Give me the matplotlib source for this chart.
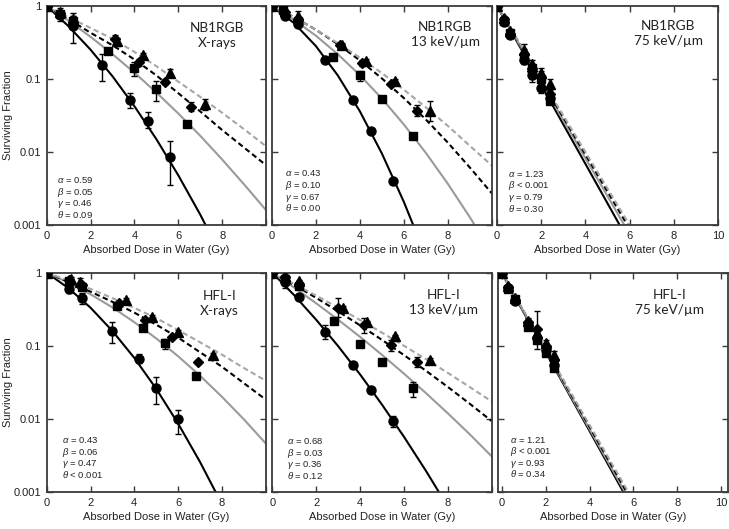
import matplotlib
matplotlib.use('Agg')
import matplotlib.pyplot as plt

plt.rcParams['font.family'] = ['Liberation Sans', 'DejaVu Sans']
plt.rcParams['mathtext.fontset'] = 'custom'
plt.rcParams['mathtext.it'] = 'Liberation Sans:italic'
plt.rcParams['mathtext.rm'] = 'Liberation Sans'

# ---------------- data (dose in Gy, surviving fraction) ----------------
# fit curves are read on a common dose grid
fit_dose = [0, 1, 2, 3, 4, 5, 6, 7, 8, 9, 10]
steep_dose = [0, 2, 4, 6]

# NB1RGB, X-rays
nbx_circ_dose = [0, 0.6, 1.2, 2.5, 3.8, 4.6, 5.6]
nbx_circ_sf = [1.0, 0.75, 0.53, 0.155, 0.052, 0.027, 0.0085]
nbx_circ_lo = [1.0, 0.63, 0.31, 0.095, 0.040, 0.021, 0.0035]
nbx_circ_hi = [1.0, 0.95, 0.80, 0.22, 0.065, 0.035, 0.014]
nbx_sq_dose = [0, 0.6, 1.2, 2.8, 4.0, 5.0, 6.4]
nbx_sq_sf = [1.0, 0.78, 0.62, 0.245, 0.14, 0.072, 0.024]
nbx_sq_lo = [1.0, 0.72, 0.52, 0.245, 0.11, 0.05, 0.022]
nbx_sq_hi = [1.0, 0.85, 0.72, 0.245, 0.17, 0.095, 0.026]
nbx_dia_dose = [0, 0.6, 1.2, 3.1, 4.2, 5.4, 6.6]
nbx_dia_sf = [1.0, 0.80, 0.60, 0.35, 0.17, 0.092, 0.042]
nbx_dia_lo = [1.0, 0.75, 0.55, 0.30, 0.15, 0.085, 0.036]
nbx_dia_hi = [1.0, 0.85, 0.66, 0.40, 0.19, 0.10, 0.049]
nbx_tri_dose = [0, 0.6, 1.2, 3.2, 4.4, 5.6, 7.2]
nbx_tri_sf = [1.0, 0.82, 0.66, 0.33, 0.215, 0.12, 0.045]
nbx_tri_lo = [1.0, 0.78, 0.60, 0.28, 0.20, 0.105, 0.038]
nbx_tri_hi = [1.0, 0.86, 0.72, 0.36, 0.23, 0.135, 0.054]
nbx_fit_black = [1, 0.527, 0.252, 0.109, 0.0424, 0.0150, 0.0048, 0.00139, 0.00036, 8.6e-5, 1.8e-5]
nbx_fit_gray = [1, 0.627, 0.378, 0.219, 0.122, 0.0654, 0.0337, 0.0167, 0.0079, 0.0036, 0.0016]
nbx_fit_bdash = [1, 0.66, 0.43, 0.29, 0.185, 0.112, 0.064, 0.036, 0.020, 0.0115, 0.0066]
nbx_fit_gdash = [1, 0.70, 0.50, 0.355, 0.235, 0.15, 0.092, 0.057, 0.0345, 0.0205, 0.012]

# NB1RGB, 13 keV/um
nb13_circ_dose = [0, 0.6, 1.2, 2.4, 3.7, 4.5, 5.5]
nb13_circ_sf = [1.0, 0.72, 0.57, 0.18, 0.052, 0.0196, 0.004]
nb13_circ_lo = [1.0, 0.68, 0.53, 0.17, 0.049, 0.0186, 0.0038]
nb13_circ_hi = [1.0, 0.76, 0.61, 0.19, 0.055, 0.0206, 0.0042]
nb13_sq_dose = [0, 0.5, 1.2, 2.8, 4.0, 5.0, 6.4]
nb13_sq_sf = [1.0, 0.87, 0.62, 0.20, 0.113, 0.053, 0.0166]
nb13_sq_lo = [1.0, 0.84, 0.58, 0.20, 0.095, 0.053, 0.0166]
nb13_sq_hi = [1.0, 0.90, 0.66, 0.20, 0.13, 0.053, 0.0166]
nb13_dia_dose = [0, 0.6, 1.2, 3.1, 4.1, 5.4, 6.6]
nb13_dia_sf = [1.0, 0.82, 0.66, 0.29, 0.165, 0.085, 0.037]
nb13_dia_lo = [1.0, 0.78, 0.62, 0.27, 0.15, 0.08, 0.031]
nb13_dia_hi = [1.0, 0.86, 0.70, 0.31, 0.18, 0.09, 0.044]
nb13_tri_dose = [0, 0.6, 1.2, 3.2, 4.3, 5.6, 7.2]
nb13_tri_sf = [1.0, 0.85, 0.72, 0.29, 0.178, 0.093, 0.036]
nb13_tri_lo = [1.0, 0.80, 0.60, 0.27, 0.165, 0.085, 0.027]
nb13_tri_hi = [1.0, 0.90, 0.85, 0.31, 0.19, 0.10, 0.050]
nb13_fit_black = [1, 0.589, 0.284, 0.112, 0.0362, 0.00956, 0.00207, 0.00037, 5.3e-5, 6.3e-6, 6e-7]
nb13_fit_gray = [1, 0.652, 0.393, 0.219, 0.113, 0.054, 0.0238, 0.0097, 0.00365, 0.00127, 0.00041]
nb13_fit_bdash = [1, 0.707, 0.474, 0.30, 0.180, 0.102, 0.0548, 0.0278, 0.0134, 0.0061, 0.0027]
nb13_fit_gdash = [1, 0.70, 0.474, 0.31, 0.1965, 0.1204, 0.0714, 0.0409, 0.0227, 0.0121, 0.0065]

# NB1RGB, 75 keV/um
nb75_dose = [0, 0.3, 0.6, 1.2, 1.6, 2.0, 2.4]
nb75_circ_sf = [1.0, 0.60, 0.40, 0.18, 0.115, 0.075, 0.055]
nb75_circ_lo = [1.0, 0.56, 0.37, 0.16, 0.10, 0.065, 0.05]
nb75_circ_hi = [1.0, 0.64, 0.43, 0.20, 0.13, 0.085, 0.06]
nb75_sq_sf = [1.0, 0.63, 0.43, 0.20, 0.14, 0.10, 0.05]
nb75_sq_lo = [1.0, 0.60, 0.40, 0.18, 0.12, 0.09, 0.045]
nb75_sq_hi = [1.0, 0.66, 0.46, 0.22, 0.16, 0.11, 0.055]
nb75_dia_sf = [1.0, 0.66, 0.42, 0.22, 0.13, 0.105, 0.062]
nb75_dia_lo = [1.0, 0.62, 0.39, 0.19, 0.09, 0.075, 0.055]
nb75_dia_hi = [1.0, 0.70, 0.45, 0.26, 0.16, 0.13, 0.07]
nb75_tri_sf = [1.0, 0.68, 0.46, 0.25, 0.16, 0.12, 0.085]
nb75_tri_lo = [1.0, 0.64, 0.43, 0.22, 0.14, 0.105, 0.075]
nb75_tri_hi = [1.0, 0.72, 0.49, 0.30, 0.18, 0.14, 0.10]
nb75_fit_black = [1, 0.0829, 0.00689, 0.00057]
nb75_fit_gray = [1, 0.0907, 0.00823, 0.00075]
nb75_fit_bdash = [1, 0.0961, 0.00924, 0.00089]
nb75_fit_gdash = [1, 0.100, 0.0100, 0.0010]

# HFL-I, X-rays
hfx_circ_dose = [0, 1.0, 1.6, 3.0, 4.2, 5.0, 6.0]
hfx_circ_sf = [1.0, 0.60, 0.45, 0.16, 0.067, 0.027, 0.010]
hfx_circ_lo = [1.0, 0.52, 0.37, 0.11, 0.058, 0.016, 0.0063]
hfx_circ_hi = [1.0, 0.68, 0.52, 0.21, 0.078, 0.038, 0.0135]
hfx_sq_dose = [0, 1.0, 1.6, 3.2, 4.4, 5.4, 6.8]
hfx_sq_sf = [1.0, 0.78, 0.64, 0.35, 0.178, 0.108, 0.039]
hfx_sq_lo = [1.0, 0.74, 0.58, 0.33, 0.165, 0.09, 0.035]
hfx_sq_hi = [1.0, 0.82, 0.70, 0.37, 0.19, 0.125, 0.043]
hfx_dia_dose = [0, 1.0, 1.6, 3.3, 4.5, 5.7, 6.9]
hfx_dia_sf = [1.0, 0.80, 0.68, 0.38, 0.226, 0.134, 0.061]
hfx_dia_lo = [1.0, 0.76, 0.64, 0.36, 0.21, 0.125, 0.057]
hfx_dia_hi = [1.0, 0.84, 0.72, 0.40, 0.24, 0.143, 0.065]
hfx_tri_dose = [0, 1.1, 1.5, 3.6, 4.8, 6.0, 7.6]
hfx_tri_sf = [1.0, 0.82, 0.75, 0.43, 0.25, 0.156, 0.075]
hfx_tri_lo = [1.0, 0.78, 0.62, 0.41, 0.235, 0.148, 0.071]
hfx_tri_hi = [1.0, 0.86, 0.85, 0.45, 0.265, 0.164, 0.079]
hfx_fit_black = [1, 0.6126, 0.333, 0.160, 0.0686, 0.026, 0.0087, 0.0026, 0.00069, 1.6e-4, 3.4e-5]
hfx_fit_gray = [1, 0.730, 0.507, 0.336, 0.211, 0.1265, 0.0722, 0.0392, 0.0202, 0.00995, 0.00466]
hfx_fit_bdash = [1, 0.75, 0.55, 0.40, 0.285, 0.195, 0.13, 0.082, 0.052, 0.031, 0.0185]
hfx_fit_gdash = [1, 0.78, 0.60, 0.45, 0.33, 0.24, 0.165, 0.112, 0.076, 0.05, 0.0335]

# HFL-I, 13 keV/um
hf13_circ_dose = [0, 0.6, 1.2, 2.4, 3.7, 4.5, 5.5]
hf13_circ_sf = [1.0, 0.74, 0.47, 0.154, 0.055, 0.025, 0.0093]
hf13_circ_lo = [1.0, 0.62, 0.44, 0.125, 0.052, 0.023, 0.0078]
hf13_circ_hi = [1.0, 0.85, 0.50, 0.19, 0.058, 0.027, 0.011]
hf13_sq_dose = [0, 0.6, 1.2, 2.8, 4.0, 5.0, 6.4]
hf13_sq_sf = [1.0, 0.82, 0.66, 0.22, 0.105, 0.061, 0.0266]
hf13_sq_lo = [1.0, 0.78, 0.62, 0.21, 0.10, 0.058, 0.020]
hf13_sq_hi = [1.0, 0.86, 0.70, 0.23, 0.11, 0.064, 0.032]
hf13_dia_dose = [0, 0.6, 1.2, 3.0, 4.2, 5.4, 6.6]
hf13_dia_sf = [1.0, 0.86, 0.70, 0.325, 0.19, 0.103, 0.061]
hf13_dia_lo = [1.0, 0.80, 0.65, 0.25, 0.15, 0.085, 0.052]
hf13_dia_hi = [1.0, 0.92, 0.76, 0.45, 0.24, 0.12, 0.070]
hf13_tri_dose = [0, 0.6, 1.2, 3.2, 4.3, 5.6, 7.2]
hf13_tri_sf = [1.0, 0.90, 0.76, 0.33, 0.21, 0.135, 0.065]
hf13_tri_lo = [1.0, 0.86, 0.72, 0.31, 0.20, 0.13, 0.062]
hf13_tri_hi = [1.0, 0.94, 0.80, 0.35, 0.22, 0.14, 0.068]
hf13_fit_black = [1, 0.4916, 0.2276, 0.0993, 0.0408, 0.01576, 0.00574, 0.00197, 0.000636, 1.9e-4, 5.5e-5]
hf13_fit_gray = [1, 0.626, 0.382, 0.228, 0.133, 0.0754, 0.0418, 0.0227, 0.012, 0.0062, 0.0031]
hf13_fit_bdash = [1, 0.679, 0.453, 0.296, 0.191, 0.1207, 0.075, 0.0458, 0.0275, 0.0162, 0.0094]
hf13_fit_gdash = [1, 0.701, 0.486, 0.333, 0.226, 0.1515, 0.1004, 0.0659, 0.0428, 0.0274, 0.0174]

# HFL-I, 75 keV/um
hf75_dose = [0, 0.3, 0.6, 1.2, 1.6, 2.0, 2.4]
hf75_circ_sf = [1.0, 0.62, 0.41, 0.20, 0.13, 0.089, 0.055]
hf75_circ_lo = [1.0, 0.55, 0.38, 0.18, 0.11, 0.08, 0.05]
hf75_circ_hi = [1.0, 0.68, 0.44, 0.22, 0.15, 0.10, 0.06]
hf75_sq_sf = [1.0, 0.60, 0.44, 0.18, 0.12, 0.08, 0.05]
hf75_sq_lo = [1.0, 0.57, 0.41, 0.165, 0.11, 0.075, 0.046]
hf75_sq_hi = [1.0, 0.63, 0.47, 0.195, 0.13, 0.085, 0.054]
hf75_dia_sf = [1.0, 0.63, 0.43, 0.21, 0.17, 0.10, 0.065]
hf75_dia_lo = [1.0, 0.60, 0.40, 0.19, 0.09, 0.09, 0.058]
hf75_dia_hi = [1.0, 0.66, 0.46, 0.23, 0.30, 0.11, 0.072]
hf75_tri_sf = [1.0, 0.65, 0.45, 0.22, 0.15, 0.11, 0.075]
hf75_tri_lo = [1.0, 0.62, 0.42, 0.20, 0.135, 0.10, 0.068]
hf75_tri_hi = [1.0, 0.68, 0.48, 0.24, 0.165, 0.12, 0.085]
hf75_fit_black = [1, 0.0829, 0.00689, 0.00057]
hf75_fit_gray = [1, 0.0855, 0.00731, 0.000626]
hf75_fit_bdash = [1, 0.0886, 0.00785, 0.000695]
hf75_fit_gdash = [1, 0.0912, 0.00832, 0.000759]

titles = ['NB1RGB\nX-rays', 'NB1RGB\n13 keV/\u00b5m', 'NB1RGB\n75 keV/\u00b5m',
          'HFL-I\nX-rays', 'HFL-I\n13 keV/\u00b5m', 'HFL-I\n75 keV/\u00b5m']
params = [
    ['= 0.59', '= 0.05', '= 0.46', '= 0.09'],
    ['= 0.43', '= 0.10', '= 0.67', '= 0.00'],
    ['= 1.23', '< 0.001', '= 0.79', '= 0.30'],
    ['= 0.43', '= 0.06', '= 0.47', '< 0.001'],
    ['= 0.68', '= 0.03', '= 0.36', '= 0.12'],
    ['= 1.21', '< 0.001', '= 0.93', '= 0.34'],
]
greek = [r'$\alpha$', r'$\beta$', r'$\gamma$', r'$\theta$']

# panel table built from the lists above
panels = [
    dict(fit_x=fit_dose,
         fits=[nbx_fit_black, nbx_fit_gray, nbx_fit_bdash, nbx_fit_gdash],
         pts=[(nbx_circ_dose, nbx_circ_sf, nbx_circ_lo, nbx_circ_hi),
              (nbx_sq_dose, nbx_sq_sf, nbx_sq_lo, nbx_sq_hi),
              (nbx_dia_dose, nbx_dia_sf, nbx_dia_lo, nbx_dia_hi),
              (nbx_tri_dose, nbx_tri_sf, nbx_tri_lo, nbx_tri_hi)]),
    dict(fit_x=fit_dose,
         fits=[nb13_fit_black, nb13_fit_gray, nb13_fit_bdash, nb13_fit_gdash],
         pts=[(nb13_circ_dose, nb13_circ_sf, nb13_circ_lo, nb13_circ_hi),
              (nb13_sq_dose, nb13_sq_sf, nb13_sq_lo, nb13_sq_hi),
              (nb13_dia_dose, nb13_dia_sf, nb13_dia_lo, nb13_dia_hi),
              (nb13_tri_dose, nb13_tri_sf, nb13_tri_lo, nb13_tri_hi)]),
    dict(fit_x=steep_dose,
         fits=[nb75_fit_black, nb75_fit_gray, nb75_fit_bdash, nb75_fit_gdash],
         pts=[(nb75_dose, nb75_circ_sf, nb75_circ_lo, nb75_circ_hi),
              (nb75_dose, nb75_sq_sf, nb75_sq_lo, nb75_sq_hi),
              (nb75_dose, nb75_dia_sf, nb75_dia_lo, nb75_dia_hi),
              (nb75_dose, nb75_tri_sf, nb75_tri_lo, nb75_tri_hi)]),
    dict(fit_x=fit_dose,
         fits=[hfx_fit_black, hfx_fit_gray, hfx_fit_bdash, hfx_fit_gdash],
         pts=[(hfx_circ_dose, hfx_circ_sf, hfx_circ_lo, hfx_circ_hi),
              (hfx_sq_dose, hfx_sq_sf, hfx_sq_lo, hfx_sq_hi),
              (hfx_dia_dose, hfx_dia_sf, hfx_dia_lo, hfx_dia_hi),
              (hfx_tri_dose, hfx_tri_sf, hfx_tri_lo, hfx_tri_hi)]),
    dict(fit_x=fit_dose,
         fits=[hf13_fit_black, hf13_fit_gray, hf13_fit_bdash, hf13_fit_gdash],
         pts=[(hf13_circ_dose, hf13_circ_sf, hf13_circ_lo, hf13_circ_hi),
              (hf13_sq_dose, hf13_sq_sf, hf13_sq_lo, hf13_sq_hi),
              (hf13_dia_dose, hf13_dia_sf, hf13_dia_lo, hf13_dia_hi),
              (hf13_tri_dose, hf13_tri_sf, hf13_tri_lo, hf13_tri_hi)]),
    dict(fit_x=steep_dose,
         fits=[hf75_fit_black, hf75_fit_gray, hf75_fit_bdash, hf75_fit_gdash],
         pts=[(hf75_dose, hf75_circ_sf, hf75_circ_lo, hf75_circ_hi),
              (hf75_dose, hf75_sq_sf, hf75_sq_lo, hf75_sq_hi),
              (hf75_dose, hf75_dia_sf, hf75_dia_lo, hf75_dia_hi),
              (hf75_dose, hf75_tri_sf, hf75_tri_lo, hf75_tri_hi)]),
]

# ---------------- layout (pixel boxes: left, top, right, bottom) ----------------
W, H = 729, 529
boxes = [(46.7, 6, 266, 225), (271.7, 6, 492, 225), (497, 6, 718, 225),
         (46.7, 272.7, 265.7, 492.3), (272.3, 272.7, 491.7, 492.3), (498.3, 272.7, 728, 492.3)]
xlims = [(0, 10), (0, 10), (0, 10), (0, 10), (0, 10), (-0.15, 10.3)]
title_pos = [(0.777, 0.865), (0.788, 0.868), (0.774, 0.873), (0.79, 0.862), (0.78, 0.866), (0.747, 0.866)]
# x, centre of first parameter line (axes fraction)
param_pos = [(0.045, 0.205), (0.06, 0.236), (0.05, 0.234), (0.07, 0.238), (0.065, 0.234), (0.052, 0.24)]
param_step = 11.6  # px between lines

line_styles = [dict(color='black', ls='-'), dict(color='#9a9a9a', ls='-'),
               dict(color='black', ls=(0, (2.6, 1.6))), dict(color='#a6a6a6', ls=(0, (2.6, 1.6)))]
marker_styles = [dict(marker='o', ms=6.5), dict(marker='s', ms=6),
                 dict(marker='D', ms=4.8), dict(marker='^', ms=6.5)]
spine_col = '#3a3a3a'
text_col = '#222222'

fig = plt.figure(figsize=(7.29, 5.29), dpi=100)

for i, p in enumerate(panels):
    l, t, r, b = boxes[i]
    ax = fig.add_axes([l / W, (H - b) / H, (r - l) / W, (b - t) / H])
    ax.set_yscale('log')

    for f, st in zip(p['fits'], line_styles):
        ax.plot(p['fit_x'], f, lw=1.5, zorder=2, **st)

    for (x, y, lo, hi), ms in zip(p['pts'], marker_styles):
        yerr = [[yy - a for yy, a in zip(y, lo)], [c - yy for yy, c in zip(y, hi)]]
        ax.errorbar(x, y, yerr=yerr, ls='none', color='black', ecolor='black',
                    elinewidth=1, capsize=2.2, capthick=1, zorder=3, **ms)

    ax.set_xlim(*xlims[i])
    ax.set_ylim(0.001, 1)
    ax.set_yticks([0.001, 0.01, 0.1, 1])
    ax.minorticks_off()
    ax.set_xticks([0, 2, 4, 6, 8, 10])
    if i % 3 == 2:
        ax.set_xticklabels(['0', '2', '4', '6', '8', '10'])
    else:
        ax.set_xticklabels(['0', '2', '4', '6', '8', ''])
    if i % 3 == 0:
        ax.set_yticklabels(['0.001', '0.01', '0.1', '1'])
        fig.text(8.5 / W, (H - (t + b) / 2) / H, 'Surviving Fraction', rotation=90,
                 ha='center', va='center', fontsize=8, color=text_col)
    else:
        ax.set_yticklabels([])
    ax.set_xlabel('Absorbed Dose in Water (Gy)', fontsize=8, color=text_col, labelpad=3)
    ax.tick_params(direction='in', top=True, right=True, length=4, width=1,
                   color=spine_col, labelsize=8, labelcolor=text_col, pad=4)
    for s in ax.spines.values():
        s.set_color(spine_col)
        s.set_linewidth(1.3)

    tx, ty = title_pos[i]
    ax.text(tx, ty, titles[i], transform=ax.transAxes, ha='center', va='center',
            fontsize=9.8, family=['Lato', 'DejaVu Sans'], linespacing=1.3, color=text_col)

    px, py = param_pos[i]
    step = param_step / (b - t)
    for k in range(4):
        ax.text(px, py - k * step - 3.0 / (b - t), greek[k] + ' ' + params[i][k],
                transform=ax.transAxes, ha='left', va='baseline',
                fontsize=6.8, color=text_col)

fig.savefig('out.png', dpi=100)
